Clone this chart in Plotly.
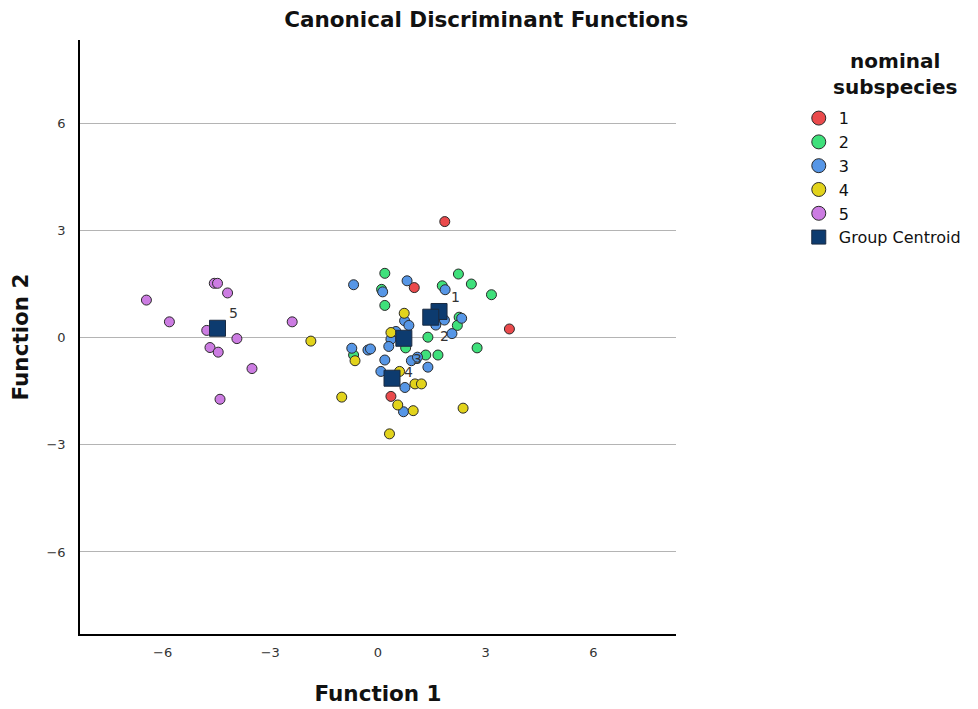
import plotly.graph_objects as go

# discriminant scores per group
red_x = [1.86, 1.01, 3.66, 0.36]
red_y = [3.26, 1.41, 0.25, -1.64]

green_x = [0.19, 0.10, 2.24, 2.60, 3.16, 1.79, 0.19, 2.26, 2.21, 1.39, 2.76, 0.77, -0.68, 1.33, 1.67]
green_y = [1.81, 1.36, 1.79, 1.51, 1.21, 1.46, 0.91, 0.58, 0.35, 0.02, -0.28, -0.28, -0.48, -0.48, -0.48]

blue_x = [-0.68, 0.81, 0.13, 1.87, 0.74, 0.86, 2.33, 1.85, 1.61, 2.06, 0.36, 0.50,
          -0.73, -0.28, -0.21, 0.30, 0.19, 0.93, 1.10, 1.39, 0.08, 0.75, 0.71]
blue_y = [1.49, 1.60, 1.29, 1.35, 0.48, 0.35, 0.55, 0.50, 0.36, 0.12, -0.04, 0.18,
          -0.29, -0.34, -0.31, -0.24, -0.62, -0.64, -0.54, -0.82, -0.94, -1.39, -2.07]

yellow_x = [0.73, 0.36, -1.87, -0.64, 0.60, 1.03, 1.21, -1.01, 0.55, 0.98, 0.32, 2.37]
yellow_y = [0.69, 0.15, -0.09, -0.64, -0.94, -1.29, -1.29, -1.66, -1.88, -2.04, -2.69, -1.97]

purple_x = [-6.45, -5.81, -4.56, -4.47, -4.19, -4.77, -3.93, -4.68, -4.45, -3.51, -4.40, -2.39]
purple_y = [1.06, 0.45, 1.53, 1.53, 1.26, 0.21, -0.02, -0.27, -0.40, -0.86, -1.72, 0.45]

centroid_x = [1.70, 1.47, 0.72, 0.39, -4.47]
centroid_y = [0.74, 0.58, -0.01, -1.13, 0.27]
centroid_labels = ["1", "2", "3", "4", "5"]

groups = [
    ("1", red_x, red_y, "#ea4a4c"),
    ("2", green_x, green_y, "#3fe07b"),
    ("3", blue_x, blue_y, "#5696e6"),
    ("4", yellow_x, yellow_y, "#e2d31b"),
    ("5", purple_x, purple_y, "#cc7ce2"),
]
centroid_color = "#0d3b6f"

fig = go.Figure()

for name, xs, ys, col in groups:
    fig.add_trace(go.Scatter(
        x=xs, y=ys, mode="markers", name=name, showlegend=False,
        marker=dict(size=10, color=col, line=dict(color="#2a2a2a", width=1)),
    ))

fig.add_trace(go.Scatter(
    x=centroid_x, y=centroid_y, mode="markers", name="Group Centroid", showlegend=False,
    marker=dict(symbol="square", size=16, color=centroid_color,
                line=dict(color="#1a2a40", width=1)),
))

# legend-only entries so the legend symbols can be bigger than the plotted ones
for name, xs, ys, col in groups:
    fig.add_trace(go.Scatter(
        x=[None], y=[None], mode="markers", name=name,
        marker=dict(size=14, color=col, line=dict(color="#2a2a2a", width=1)),
    ))
fig.add_trace(go.Scatter(
    x=[None], y=[None], mode="markers", name="Group Centroid",
    marker=dict(symbol="square", size=14, color=centroid_color,
                line=dict(color="#1a2a40", width=1)),
))

# centroid labels, nudged like SPSS does
label_shift = [(16, 14), (14, -19), (14, -21), (16, 6), (16, 15)]
for lx, ly, txt, (dx, dy) in zip(centroid_x, centroid_y, centroid_labels, label_shift):
    fig.add_annotation(x=lx, y=ly, text=txt, showarrow=False,
                       xshift=dx, yshift=dy,
                       font=dict(size=14, color="#333333"))

# legend title as a centred annotation (plotly left-aligns multi-line legend titles)
fig.add_annotation(x=1.368, y=0.943, xref="paper", yref="paper",
                   xanchor="center", yanchor="middle", align="center",
                   text="<b>nominal<br>subspecies</b>", showarrow=False,
                   font=dict(size=20, color="#111111"))

# page body adds 8px, so the figure is 8px smaller and margins shifted
fig.update_layout(
    width=970, height=701,
    margin=dict(l=72, r=297, t=32, b=75),
    paper_bgcolor="white", plot_bgcolor="white",
    font=dict(family="DejaVu Sans", color="#222222"),
    title=dict(text="<b>Canonical Discriminant Functions</b>",
               x=0.493, xref="container", xanchor="center",
               y=0.983, yref="container", yanchor="middle",
               font=dict(size=21.5, color="#111111")),
    legend=dict(
        x=1.206, xanchor="left", y=0.897, yanchor="top",
        font=dict(size=16, color="#111111"),
        tracegroupgap=0, itemwidth=30,
    ),
    showlegend=True,
)

fig.update_xaxes(
    range=[-8.3, 8.3], tickvals=[-6, -3, 0, 3, 6],
    ticktext=["\u22126", "\u22123", "0", "3", "6"],
    showgrid=False, zeroline=False, automargin=False,
    showline=True, linecolor="black", linewidth=1.5,
    tickfont=dict(size=13, color="#333333"), ticklabelstandoff=6,
    title=dict(text="<b>Function 1</b>", font=dict(size=21.5, color="#111111"), standoff=27),
)
fig.update_yaxes(
    range=[-8.3, 8.35], tickvals=[-6, -3, 0, 3, 6],
    ticktext=["\u22126", "\u22123", "0", "3", "6"],
    showgrid=True, gridcolor="#b4b4b4", gridwidth=1, zeroline=False, automargin=False,
    showline=True, linecolor="black", linewidth=1.5,
    tickfont=dict(size=13, color="#333333"), ticklabelstandoff=10,
    title=dict(text="<b>Function 2</b>", font=dict(size=21.5, color="#111111"), standoff=13),
)

fig.write_html("out.html")
